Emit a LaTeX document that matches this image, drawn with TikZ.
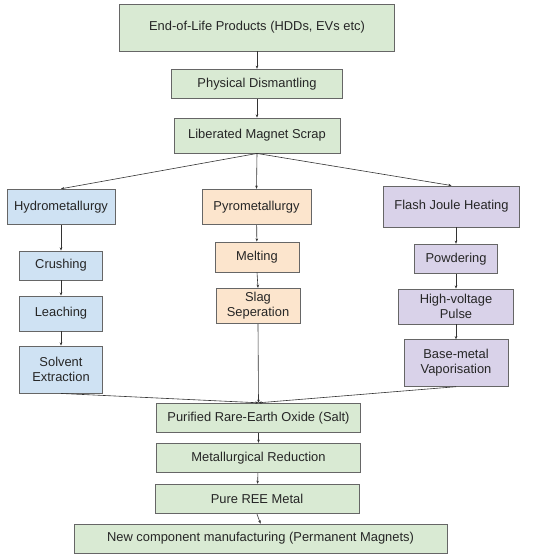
\documentclass[tikz,border=0pt]{standalone}
\usepackage{fontspec}
\setmainfont{Liberation Sans}
\usetikzlibrary{arrows.meta}
\definecolor{bgreen}{HTML}{D9EAD3}
\definecolor{bblue}{HTML}{CFE2F3}
\definecolor{borange}{HTML}{FCE5CD}
\definecolor{bpurple}{HTML}{D9D2E9}
\definecolor{bline}{HTML}{666666}
\definecolor{aline}{HTML}{333333}
\begin{document}
\begin{tikzpicture}[x=1pt,y=-1pt,
  box/.style={rectangle, draw=bline, line width=0.9pt, inner sep=0pt, align=center,
    font=\fontsize{12.9}{14.7}\selectfont, text=black!85},
  gbox/.style={box, fill=bgreen},
  hbox/.style={box, fill=bblue},
  pbox/.style={box, fill=borange},
  fbox/.style={box, fill=bpurple},
  arr/.style={draw=aline, line width=0.6pt, -{Stealth[length=3.2pt,width=2.6pt]}}]
\useasboundingbox (0,0) rectangle (534,554);
\node[gbox, minimum width=275.5pt, minimum height=47pt] (eol) at (257,27.5) {End-of-Life Products (HDDs, EVs etc)};
\node[gbox, minimum width=171.5pt, minimum height=29.5pt] (phys) at (257,84) {Physical Dismantling};
\node[gbox, minimum width=166pt, minimum height=35pt] (lib) at (257,135.5) {Liberated Magnet Scrap};
\node[hbox, minimum width=108pt, minimum height=35.5pt] (hydro) at (61,207) {Hydrometallurgy};
\node[pbox, minimum width=109pt, minimum height=35.5pt] (pyro) at (256.5,207) {Pyrometallurgy};
\node[fbox, minimum width=136pt, minimum height=41pt] (flash) at (451.5,206.5) {Flash Joule Heating};
\node[hbox, minimum width=83.5pt, minimum height=29pt] (crush) at (61,265.5) {Crushing};
\node[hbox, minimum width=83.5pt, minimum height=35pt] (leach) at (61,313.5) {Leaching};
\node[hbox, minimum width=83.5pt, minimum height=47pt] (solv) at (61,369.5) {Solvent\\Extraction};
\node[pbox, minimum width=84pt, minimum height=30pt] (melt) at (257,257) {Melting};
\node[pbox, minimum width=84pt, minimum height=35.5pt] (slag) at (258,306) {Slag\\Seperation};
\node[fbox, minimum width=82.5pt, minimum height=29.5pt] (powd) at (456,259) {Powdering};
\node[fbox, minimum width=115pt, minimum height=35pt] (hv) at (456,306.5) {High-voltage\\Pulse};
\node[fbox, minimum width=104pt, minimum height=46.5pt] (base) at (456,363) {Base-metal\\Vaporisation};
\node[gbox, minimum width=204pt, minimum height=29.5pt] (pur) at (258.5,418) {Purified Rare-Earth Oxide (Salt)};
\node[gbox, minimum width=204pt, minimum height=29.5pt] (met) at (258.5,458) {Metallurgical Reduction};
\node[gbox, minimum width=204pt, minimum height=29.5pt] (pure) at (257,499) {Pure REE Metal};
\node[gbox, minimum width=373pt, minimum height=29pt] (new) at (260.5,538.5) {New component manufacturing (Permanent Magnets)};
\draw[arr] (eol) -- (phys);
\draw[arr] (phys) -- (lib);
\draw[arr] (lib.south) -- (hydro.north);
\draw[arr] (lib.south) -- (pyro.north);
\draw[arr] (lib.south) -- (flash.north);
\draw[arr] (hydro) -- (crush);
\draw[arr] (crush) -- (leach);
\draw[arr] (leach) -- (solv);
\draw[arr] (pyro) -- (melt);
\draw[arr] (melt.south) -- (slag.north);
\draw[arr] (flash.south -| powd.north) -- (powd.north);
\draw[arr] (powd) -- (hv);
\draw[arr] (hv) -- (base);
\draw[arr] (solv.south) -- (pur.north);
\draw[arr] (slag.south) -- (pur.north);
\draw[arr] (base.south) -- (pur.north);
\draw[arr] (pur) -- (met);
\draw[arr] (met) -- (pure);
\draw[arr] (pure.south) -- (new.north);
\end{tikzpicture}
\end{document}
